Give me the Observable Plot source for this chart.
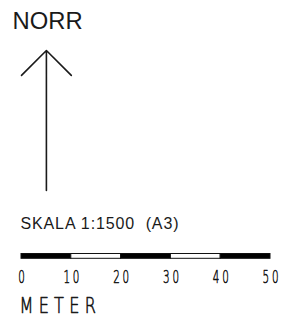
<!DOCTYPE html>
<html><head><meta charset="utf-8">
<script src="https://cdn.jsdelivr.net/npm/d3@7"></script>
<script src="https://cdn.jsdelivr.net/npm/@observablehq/plot@0.6"></script>
<style>body{margin:0;background:#fff}</style>
</head><body><div id="chart"></div>
<script>
const northLabel = "NORR";
const scaleLabel = "SKALA 1:1500  (A3)";
const unitLabel = "METER";
const ticks = [0, 10, 20, 30, 40, 50];
const segFills = ["black", "white", "black", "white", "black"];

const segments = segFills.map((f, i) => ({x1: ticks[i], x2: ticks[i + 1], fill: f}));

const chart = Plot.plot({
  width: 286, height: 327,
  margin: 0,
  x: {domain: [0, 50], range: [21, 270], axis: null},
  y: {domain: [0, 327], range: [0, 327], axis: null},
  marks: [
    Plot.text([northLabel], {x: 0, dx: -9, y: 28.5, text: d => d, textAnchor: "start", lineAnchor: "bottom",
      fontSize: 23.8, fontFamily: "Liberation Sans, Arial, sans-serif", fill: "#1a1a1a"}),
    Plot.arrow([0], {x1: 5, y1: 190, x2: 5, y2: 50, headAngle: 90, headLength: 33,
      stroke: "#1a1a1a", strokeWidth: 1.6}),
    Plot.text([scaleLabel], {x: 0, dx: -1, y: 228.5, text: d => d, textAnchor: "start", lineAnchor: "bottom",
      fontSize: 16, fontFamily: "Liberation Sans, Arial, sans-serif", fill: "#1a1a1a", className: "skala"}),
    Plot.rect(segments, {x1: "x1", x2: "x2", y1: 253.5, y2: 258.3, fill: "fill", stroke: "#111", strokeWidth: 1}),
    Plot.text(ticks, {x: d => d, dx: 1.5, y: 282, text: d => String(d), textAnchor: "middle", lineAnchor: "bottom",
      fontSize: 18.5, fontWeight: 200, fontFamily: "DejaVu Sans, sans-serif", fill: "#111",
      stroke: "#111", strokeWidth: 0.6, className: "narrow-ticks"}),
    Plot.text([unitLabel], {x: 0, dx: -2, y: 312.5, text: d => d, textAnchor: "start", lineAnchor: "bottom",
      fontSize: 21.5, fontWeight: 200, fontFamily: "DejaVu Sans, sans-serif", fill: "#111",
      stroke: "#111", strokeWidth: 0.6, className: "narrow-unit"})
  ]
});

// condense the technical-drawing style lettering
function squeeze(sel, sx) {
  d3.select(chart).selectAll(sel).each(function () {
    const t = this.getAttribute("transform") || "";
    this.setAttribute("transform", t + ` scale(${sx},1)`);
  });
}
squeeze(".narrow-ticks text", 0.56);
squeeze(".narrow-unit text", 0.75);
d3.select(chart).selectAll(".narrow-ticks text").style("letter-spacing", "5px");
d3.select(chart).selectAll(".narrow-unit text").style("letter-spacing", "7px");
d3.select(chart).selectAll(".skala text").attr("textLength", 158).attr("lengthAdjust", "spacing");
document.getElementById("chart").appendChild(chart);
</script></body></html>
